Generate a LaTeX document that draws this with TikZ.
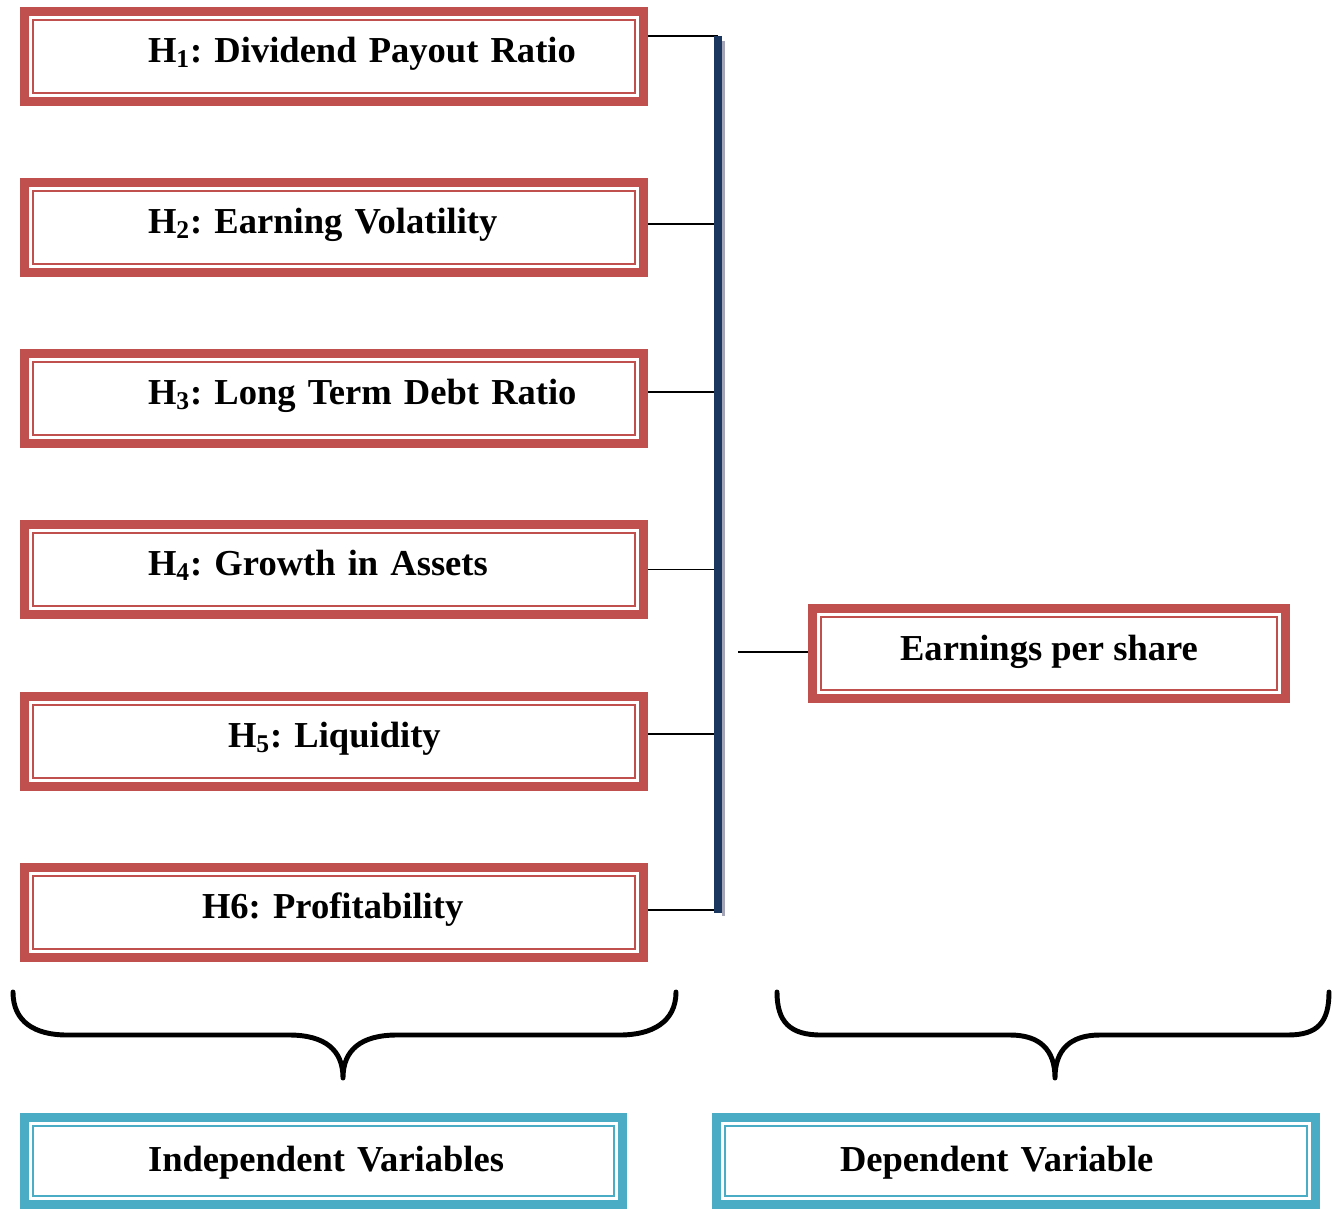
\documentclass[tikz,border=0pt]{standalone}
\usepackage{fontspec}
\setmainfont{Liberation Serif}
\frenchspacing
\usepackage{tikz}
\usetikzlibrary{calc}
\definecolor{boxred}{HTML}{C0504D}
\definecolor{boxblue}{HTML}{4BACC6}
\definecolor{barblue}{HTML}{1B365F}
\definecolor{bargray}{HTML}{A5A5B8}
\tikzset{
	varbox/.style={draw=#1, line width=5.1pt, inner sep=0pt, minimum height=1.8cm,
		font=\bfseries\fontsize{20.8}{25}\selectfont, text height=10pt, text depth=3.2pt,
		path picture={\draw[#1, line width=1.1pt] ([shift={(0.17cm,-0.17cm)}]path picture bounding box.north west) rectangle ([shift={(-0.17cm,0.17cm)}]path picture bounding box.south east);}},
	varbox/.default=boxred,
	indbox/.style={varbox, text width=12.38cm, align=left},
	link/.style={line width=1.1pt},
	brace/.style={line width=2.8pt, line cap=round, line join=round}
}
\begin{document}
\begin{tikzpicture}[x=0.02cm, y=-0.02cm]
			\useasboundingbox (0,0) rectangle (1332,1209);
			
			\foreach \n/\y/\ind/\txt in {1/56.5/2.47/{H\textsubscript{1}: Dividend Payout Ratio},
				2/227.5/2.47/{H\textsubscript{2}: Earning Volatility},
				3/398.5/2.47/{H\textsubscript{3}: Long Term Debt Ratio},
				4/569.5/2.47/{H\textsubscript{4}: Growth in Assets},
				5/741.5/4.07/{H\textsubscript{5}: Liquidity},
				6/912.5/3.55/{H6: Profitability}}
			\node[indbox] (h\n) at (334,\y) {\hspace*{\ind cm}\txt};
			
			\node[varbox, minimum width=9.46cm, text height=11pt, text depth=3pt] (eps) at (1049,653.5) {Earnings per share};
			
			\coordinate (bartop) at (718,36);
			\coordinate (barbot) at (718,913);
			\foreach \n/\up in {1/20.5,2/3.5,3/6.5,4/0,5/7.5,6/2.5}
			\draw[link] ($(h\n.east)+(0,-\up)$) -- ($(h\n.east -| bartop)+(0,-\up)$);
			\draw[bargray, line width=1.7pt] ($(bartop)+(5.5,5)$) -- ($(barbot)+(5.5,3)$);
			\draw[barblue, line width=4.5pt] (bartop) -- (barbot);
			
			\coordinate (epsin) at (738,652);
			\draw[link] (epsin) -- (epsin -| eps.west);
			
			\draw[brace] (13,992) .. controls (13,1022) and (35,1035) .. (67,1035) -- (289,1035) .. controls (325,1035) and (343,1050) .. (343,1078)
				.. controls (343,1050) and (361,1035) .. (397,1035) -- (620,1035) .. controls (652,1035) and (676,1022) .. (676,992);
			\draw[brace] (777,992) .. controls (777,1022) and (790,1035) .. (821,1035) -- (1010,1035) .. controls (1040,1035) and (1055,1050) .. (1055,1078)
				.. controls (1055,1050) and (1070,1035) .. (1100,1035) -- (1288,1035) .. controls (1318,1035) and (1329,1022) .. (1329,992);
			
			\node[indbox, varbox=boxblue, text width=11.96cm, minimum height=1.74cm, text height=15pt, text depth=2.5pt] (indep) at (323.5,1161) {\hspace*{2.47cm}Independent Variables};
			\node[indbox, varbox=boxblue, text width=11.98cm, minimum height=1.74cm, text height=15pt, text depth=2.5pt] (dep) at (1016,1161) {\hspace*{2.47cm}Dependent Variable};
\end{tikzpicture}
\end{document}
